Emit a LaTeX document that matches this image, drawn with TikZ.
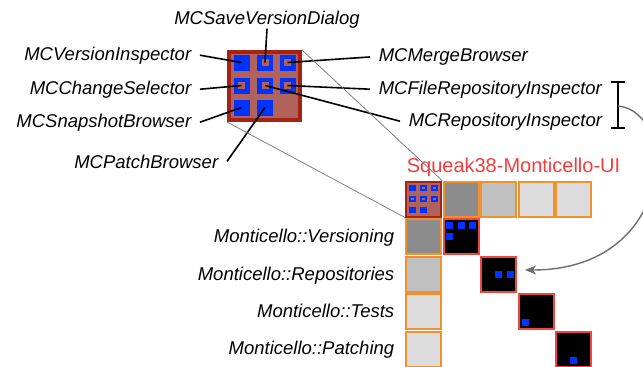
\documentclass[tikz,border=0pt]{standalone}
\usepackage{fontspec}
\setmainfont{Liberation Sans}
\usetikzlibrary{arrows.meta}
\definecolor{boxred}{RGB}{165,35,20}
\definecolor{boxfill}{RGB}{178,98,92}
\definecolor{mcblue}{RGB}{0,51,255}
\definecolor{cellorange}{RGB}{240,145,45}
\definecolor{cellred}{RGB}{240,70,60}
\definecolor{titlered}{RGB}{245,60,60}
\definecolor{gdark}{RGB}{140,140,140}
\definecolor{gmid}{RGB}{192,192,192}
\definecolor{glight}{RGB}{220,220,220}
\definecolor{arrowgray}{RGB}{110,110,110}

\begin{document}
\begin{tikzpicture}[x=1pt,y=-1pt,line width=1.6pt,
    lbl/.style={font=\fontsize{18.5}{22}\selectfont\itshape,inner xsep=8pt,inner ysep=0pt},
    pkg/.style={font=\fontsize{18.5}{22}\selectfont\itshape,inner sep=0pt,anchor=base east},
    bigbox/.style={draw=boxred,fill=boxfill,line width=4pt,minimum width=71pt,minimum height=68pt,inner sep=0pt},
    full/.style={fill=mcblue,minimum size=16pt,inner sep=0pt},
    hollow/.style={draw=mcblue,line width=4.5pt,minimum size=11.5pt,inner sep=0pt},
    minifull/.style={fill=mcblue,minimum size=6.5pt,inner sep=0pt},
    minihollow/.style={draw=mcblue,line width=2pt,minimum size=4.5pt,inner sep=0pt},
    cell/.style={draw=cellorange,line width=2pt,minimum size=35pt,inner sep=0pt},
    blk/.style={draw=cellred,fill=black,line width=2pt,minimum size=35pt,inner sep=0pt},
    dot/.style={fill=mcblue,minimum size=7pt,inner sep=0pt}]
    \useasboundingbox (0,0) rectangle (643,367);

    % 大方块
    \node[bigbox] (big) at (264.5,86) {};
    \node[full] (s11) at (241.5,62.5) {};
    \node[hollow] (s12) at (265,62.5) {};
    \node[hollow] (s13) at (287.5,62.5) {};
    \node[hollow] (s21) at (241.5,85.5) {};
    \node[hollow] (s22) at (265,85.5) {};
    \node[hollow] (s23) at (287.5,85.5) {};
    \node[full] (s31) at (241.5,107.5) {};
    \node[full] (s32) at (265,107.5) {};

    % 类名
    \node[lbl,anchor=base] (svd) at (267,24) {MCSaveVersionDialog};
    \node[lbl,anchor=base east] (vinsp) at (200,60) {MCVersionInspector};
    \node[lbl,anchor=base east] (csel) at (200,94) {MCChangeSelector};
    \node[lbl,anchor=base east] (snap) at (200,127) {MCSnapshotBrowser};
    \node[lbl,anchor=base east] (patch) at (227,168) {MCPatchBrowser};
    \node[lbl,anchor=base west] (merge) at (370,61.5) {MCMergeBrowser};
    \node[lbl,anchor=base west] (filerep) at (370,94) {MCFileRepositoryInspector};
    \node[lbl,anchor=base west] (rep) at (400,126) {MCRepositoryInspector};

    \draw (svd.south) -- (s12.center);
    \draw (vinsp.east) -- (s11.center);
    \draw (csel.east) -- (s21.center);
    \draw (snap.east) -- (s31.center);
    \draw (patch.east) -- (s32.center);
    \draw (merge.west) -- (s13.center);
    \draw (filerep.west) -- (s23.center);
    \draw (rep.west) -- (s22.center);

    % 矩阵
    \node[font=\fontsize{20}{24}\selectfont,text=titlered,anchor=base west,inner sep=0pt] (title) at (406,172) {Squeak38-Monticello-UI};
    \node[draw=boxred,fill=boxfill,line width=2pt,minimum size=35pt,inner sep=0pt] (c00) at (423.5,199) {};
    \node[cell,fill=gdark] (c01) at (461.1,199) {};
    \node[cell,fill=gmid] (c02) at (498.7,199) {};
    \node[cell,fill=glight] (c03) at (536.3,199) {};
    \node[cell,fill=glight] (c04) at (573.9,199) {};
    \node[cell,fill=gdark] (c10) at (423.5,236.5) {};
    \node[cell,fill=gmid] (c20) at (423.5,274) {};
    \node[cell,fill=glight] (c30) at (423.5,311.5) {};
    \node[cell,fill=glight] (c40) at (423.5,349) {};
    \node[blk] (c11) at (461.1,236.5) {};
    \node[blk] (c22) at (498.7,274) {};
    \node[blk] (c33) at (536.3,311.5) {};
    \node[blk] (c44) at (573.9,349) {};

    % 缩小的方块
    \node[minifull] (m11) at (412.5,188) {};
    \node[minihollow] (m12) at (423.5,188) {};
    \node[minihollow] (m13) at (434.5,188) {};
    \node[minihollow] (m21) at (412.5,199) {};
    \node[minihollow] (m22) at (423.5,199) {};
    \node[minihollow] (m23) at (434.5,199) {};
    \node[minifull] (m31) at (412.5,210) {};
    \node[minifull] (m32) at (423.5,210) {};

    % 各包中的类
    \node[dot] (d1a) at (449.6,225) {};
    \node[dot] (d1b) at (461.1,225) {};
    \node[dot] (d1c) at (472.6,225) {};
    \node[dot] (d1d) at (449.6,236.5) {};
    \node[dot] (d2a) at (498.7,274) {};
    \node[dot] (d2b) at (510.2,274) {};
    \node[dot] (d3a) at (525.3,322.5) {};
    \node[dot] (d4a) at (573.9,360) {};

    \node[pkg] (pver) at (395,242.7) {Monticello::Versioning};
    \node[pkg] (prep) at (395,280) {Monticello::Repositories};
    \node[pkg] (ptest) at (395,317) {Monticello::Tests};
    \node[pkg] (ppat) at (395,354) {Monticello::Patching};

    % 辅助线及箭头
    \draw[gray,line width=0.8pt] (big.north east) -- (c00.north east);
    \draw[gray,line width=0.8pt] (big.south west) -- (c00.south west);

    \coordinate (brtop) at (618,81);
    \coordinate (brbot) at (618,129);
    \coordinate (brmid) at (618,106);
    \coordinate (tip) at (525,270);
    \draw[{Bar[width=14pt]}-{Bar[width=14pt]}] (brtop) -- (brbot);
    \draw[arrowgray,line width=1.4pt,-{Stealth[length=11pt,width=9pt,inset=3pt]}]
        (brmid) .. controls (680,112) and (675,270) .. (tip);
\end{tikzpicture}
\end{document}
